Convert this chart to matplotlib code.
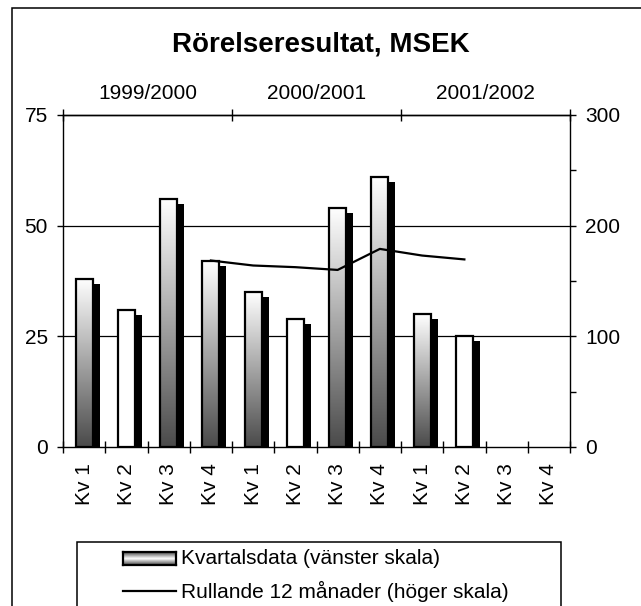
import numpy as np
import matplotlib
matplotlib.use("Agg")
import matplotlib.pyplot as plt
from matplotlib.patches import Rectangle
from matplotlib.lines import Line2D
from matplotlib.colors import LinearSegmentedColormap
from matplotlib.ticker import FixedLocator, NullFormatter, FixedFormatter

plt.rcParams['font.family'] = ['Liberation Sans', 'DejaVu Sans']

# ---- data ----
quarters = ["Kv 1", "Kv 2", "Kv 3", "Kv 4"] * 3
years = ["1999/2000", "2000/2001", "2001/2002"]
kvartal = [38, 31, 56, 42, 35, 29, 54, 61, 30, 25]          # left scale
rullande_idx = [3, 4, 5, 6, 7, 8, 9]
rullande = [168.5, 164, 162.5, 160, 179, 173, 169.5]        # right scale
white_bars = [1, 5, 9]                                       # rendered without gradient

W, H = 641, 606
fig = plt.figure(figsize=(W / 100, H / 100), dpi=100)

def fx(px):
    return px / W

def fy(py):
    return 1 - py / H

L, R, T, B = 63, 570, 115, 447
ax = fig.add_axes([fx(L), fy(B), (R - L) / W, (B - T) / H])
ax.set_xlim(-0.5, 11.5)
ax.set_ylim(0, 75)

cat_px = (R - L) / 12.0
bw = 17 / cat_px
off_x = 7 / cat_px
off_y = 5 / (B - T) * 75

cmap = LinearSegmentedColormap.from_list("g", ["#4a4a4a", "#ffffff"])
grad = np.linspace(0, 1, 256).reshape(-1, 1)

# gridlines
for gv in [25, 50]:
    ax.axhline(gv, color="black", lw=0.9, zorder=0.5)

for i, v in enumerate(kvartal):
    # shadow
    ax.add_patch(Rectangle((i - bw / 2 + off_x, 0), bw, v - off_y,
                           facecolor="black", edgecolor="none", zorder=1))
    if i in white_bars:
        ax.add_patch(Rectangle((i - bw / 2, 0), bw, v, facecolor="white",
                               edgecolor="none", zorder=2))
    else:
        ax.imshow(grad, cmap=cmap, aspect="auto", origin="lower",
                  extent=[i - bw / 2, i + bw / 2, 0, v], zorder=2,
                  interpolation="bilinear")
    ax.add_patch(Rectangle((i - bw / 2, 0), bw, v, facecolor="none",
                           edgecolor="black", lw=1.6, zorder=3))

ax.set_xlim(-0.5, 11.5)
ax.set_ylim(0, 75)

# bottom axis: boundary ticks + category labels
ax.xaxis.set_major_locator(FixedLocator(np.arange(-0.5, 12, 1)))
ax.xaxis.set_major_formatter(NullFormatter())
ax.xaxis.set_minor_locator(FixedLocator(np.arange(12)))
ax.xaxis.set_minor_formatter(FixedFormatter(quarters))
ax.tick_params(axis="x", which="major", direction="inout", length=8.6,
               width=1, color="black")
ax.tick_params(axis="x", which="minor", length=0, pad=11.5, labelsize=15,
               labelrotation=90)

# left axis
ax.set_yticks([0, 25, 50, 75])
ax.tick_params(axis="y", which="major", direction="out", length=4.3,
               width=1, pad=6.5, labelsize=15)

for s in ["left", "bottom", "top"]:
    ax.spines[s].set_linewidth(1.0)
    ax.spines[s].set_color("black")
ax.spines["right"].set_visible(False)

# top axis with years
top = ax.secondary_xaxis("top")
top.xaxis.set_major_locator(FixedLocator([-0.5, 3.5, 7.5, 11.5]))
top.xaxis.set_major_formatter(NullFormatter())
top.xaxis.set_minor_locator(FixedLocator([1.5, 5.5, 9.5]))
top.xaxis.set_minor_formatter(FixedFormatter(years))
top.tick_params(axis="x", which="major", direction="inout", length=8.6, width=1)
top.tick_params(axis="x", which="minor", length=0, pad=8.5, labelsize=15)
top.spines["top"].set_linewidth(1.0)

# right axis and rolling line
ax2 = ax.twinx()
ax2.set_ylim(0, 300)
ax2.plot(rullande_idx, rullande, color="black", lw=1.6, zorder=5)
ax2.set_yticks([0, 100, 200, 300])
ax2.yaxis.set_minor_locator(FixedLocator([50, 150, 250]))
ax2.tick_params(axis="y", which="major", direction="out", length=4.3,
                width=1, pad=6.5, labelsize=15)
ax2.tick_params(axis="y", which="minor", direction="out", length=4.3, width=1)
for s in ["left", "bottom", "top"]:
    ax2.spines[s].set_visible(False)
ax2.spines["right"].set_linewidth(1.0)
ax2.set_xlim(-0.5, 11.5)

# title
fig.text(0.5, fy(45), "Rörelseresultat, MSEK", ha="center", va="center",
         fontsize=20, fontweight="bold")

# figure border (left/top visible)
fig.add_artist(Rectangle((fx(12), fy(700)), fx(700), (700 - 8) / H,
                         facecolor="none", edgecolor="black", lw=1.1,
                         transform=fig.transFigure, zorder=-1))

# legend box
fig.add_artist(Rectangle((fx(77), fy(700)), fx(561 - 77), (700 - 542) / H,
                         facecolor="white", edgecolor="black", lw=1.1,
                         transform=fig.transFigure, zorder=1))
lax = fig.add_axes([fx(123), fy(565), 53 / W, 13 / H])
lax.set_zorder(10)
lg = np.concatenate([np.linspace(0, 1, 64), np.linspace(1, 0, 64)]).reshape(-1, 1)
lax.imshow(lg, cmap=cmap, aspect="auto", interpolation="bilinear")
lax.set_xticks([])
lax.set_yticks([])
for s in lax.spines.values():
    s.set_linewidth(1.6)
fig.add_artist(Line2D([fx(123), fx(176)], [fy(591), fy(591)], color="black",
                      lw=1.6, transform=fig.transFigure, zorder=11))
fig.text(fx(181), fy(558), "Kvartalsdata (vänster skala)", ha="left",
         va="center", fontsize=15, zorder=11)
fig.text(fx(181), fy(591), "Rullande 12 månader (höger skala)", ha="left",
         va="center", fontsize=15, zorder=11)

fig.savefig("out.png", dpi=100)
